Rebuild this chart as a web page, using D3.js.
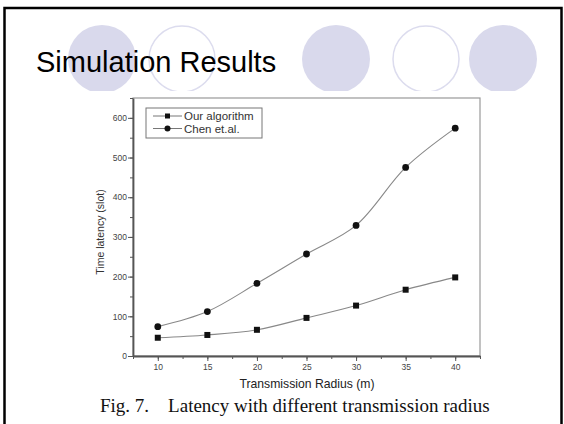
<!DOCTYPE html>
<html>
<head>
<meta charset="utf-8">
<script src="https://cdn.jsdelivr.net/npm/d3@7"></script>
<style>
  body { margin: 0; background: #fff; }
  svg { display: block; }
  .axis text { font-family: "Liberation Sans", Arial, sans-serif; font-size: 8.5px; fill: #444; }
  .axis path, .axis line { stroke: #555; }
</style>
</head>
<body>
<div id="slide"></div>
<script>
const radius = [10, 15, 20, 25, 30, 35, 40]
const ourAlgorithm = [46, 53, 66, 96, 127, 167, 198]
const chenEtAl = [74, 112, 183, 257, 329, 475, 574]
const seriesNames = ['Our algorithm', 'Chen et.al.']
const xTicks = [10, 15, 20, 25, 30, 35, 40]
const yTicks = [0, 100, 200, 300, 400, 500, 600]

const W = 564
const H = 424

const svg = d3.select('#slide')
  .append('svg')
  .attr('width', W)
  .attr('height', H)

// slide decoration circles (filled / outline alternating)
const deco = [
  { cx: 102, filled: true },
  { cx: 182, filled: false },
  { cx: 336, filled: true },
  { cx: 426, filled: false },
  { cx: 503, filled: true }
]

svg.append('clipPath').attr('id', 'decoclip')
  .append('rect').attr('x', 0).attr('y', 0).attr('width', W).attr('height', 91)

svg.append('g')
  .attr('clip-path', 'url(#decoclip)')
  .selectAll('circle')
  .data(deco)
  .enter()
  .append('circle')
  .attr('cx', d => d.cx)
  .attr('cy', 59)
  .attr('r', d => d.filled ? 34 : 33)
  .attr('fill', d => d.filled ? '#d9d9ec' : 'none')
  .attr('stroke', d => d.filled ? 'none' : '#dcdcee')
  .attr('stroke-width', 1.5)

// slide border
svg.append('rect')
  .attr('x', 4.5)
  .attr('y', 8)
  .attr('width', 557)
  .attr('height', 430)
  .attr('fill', 'none')
  .attr('stroke', '#000')
  .attr('stroke-width', 2.5)

svg.append('text')
  .text('Simulation Results')
  .attr('x', 36)
  .attr('y', 72)
  .attr('font-family', '"Liberation Sans", Arial, sans-serif')
  .attr('font-size', 29)
  .attr('fill', '#000')

// chart
const margin = { top: 98, left: 133 }
const width = 347
const height = 258

const g = svg.append('g')
  .attr('transform', `translate(${margin.left},${margin.top})`)

const x = d3.scaleLinear().domain([7.5, 42.5]).range([0, width])
const y = d3.scaleLinear().domain([0, 650]).range([height, 0])

// frame (top / right lighter)
g.append('rect')
  .attr('width', width)
  .attr('height', height)
  .attr('fill', 'none')
  .attr('stroke', '#999')
  .attr('stroke-width', 1.2)

// minor ticks
g.append('g')
  .attr('class', 'axis')
  .attr('transform', `translate(0,${height})`)
  .call(d3.axisBottom(x).tickValues(d3.range(7.5, 42.6, 2.5)).tickSize(3).tickFormat(''))
  .call(a => a.select('.domain').remove())

g.append('g')
  .attr('class', 'axis')
  .call(d3.axisLeft(y).tickValues(d3.range(0, 651, 50)).tickSize(3).tickFormat(''))
  .call(a => a.select('.domain').remove())

const xAxis = g.append('g')
  .attr('class', 'axis')
  .attr('transform', `translate(0,${height})`)
  .call(d3.axisBottom(x).tickValues(xTicks).tickSize(5).tickPadding(3).tickSizeOuter(0))
xAxis.select('.domain').attr('stroke-width', 1.8)

const yAxis = g.append('g')
  .attr('class', 'axis')
  .call(d3.axisLeft(y).tickValues(yTicks).tickSize(5).tickPadding(1).tickSizeOuter(0))
yAxis.select('.domain').attr('stroke-width', 1.8)

// lines
const data = [
  radius.map((r, i) => ({ x: r, y: ourAlgorithm[i] })),
  radius.map((r, i) => ({ x: r, y: chenEtAl[i] }))
]

const line = d3.line()
  .x(d => x(d.x))
  .y(d => y(d.y))
  .curve(d3.curveCatmullRom)

g.selectAll('.series-line')
  .data(data)
  .enter()
  .append('path')
  .attr('class', 'series-line')
  .attr('d', line)
  .attr('fill', 'none')
  .attr('stroke', '#888')
  .attr('stroke-width', 1.1)

g.selectAll('.sq')
  .data(data[0])
  .enter()
  .append('rect')
  .attr('class', 'sq')
  .attr('x', d => x(d.x) - 3)
  .attr('y', d => y(d.y) - 3)
  .attr('width', 6)
  .attr('height', 6)
  .attr('fill', '#111')

g.selectAll('.dot')
  .data(data[1])
  .enter()
  .append('circle')
  .attr('class', 'dot')
  .attr('cx', d => x(d.x))
  .attr('cy', d => y(d.y))
  .attr('r', 3.4)
  .attr('fill', '#111')

// legend
const legend = svg.append('g').attr('transform', 'translate(146,108)')
legend.append('rect')
  .attr('width', 116)
  .attr('height', 30)
  .attr('fill', '#fff')
  .attr('stroke', '#777')
  .attr('stroke-width', 1)

seriesNames.forEach((name, i) => {
  const row = legend.append('g').attr('transform', `translate(0,${8 + i * 12.5})`)
  row.append('line')
    .attr('x1', 7).attr('x2', 36)
    .attr('stroke', '#777').attr('stroke-width', 1)
  if (i === 0) {
    row.append('rect').attr('x', 19).attr('y', -2.5).attr('width', 5).attr('height', 5).attr('fill', '#111')
  } else {
    row.append('circle').attr('cx', 21.5).attr('r', 3).attr('fill', '#111')
  }
  row.append('text')
    .text(name)
    .attr('x', 38)
    .attr('y', 4)
    .attr('font-family', '"Liberation Sans", Arial, sans-serif')
    .attr('font-size', 11.5)
    .attr('fill', '#333')
})

// axis titles
svg.append('text')
  .text('Transmission Radius (m)')
  .attr('x', 307)
  .attr('y', 388)
  .attr('text-anchor', 'middle')
  .attr('font-family', '"Liberation Sans", Arial, sans-serif')
  .attr('font-size', 12.2)
  .attr('fill', '#222')

svg.append('text')
  .text('Time latency (slot)')
  .attr('transform', 'translate(104,232) rotate(-90)')
  .attr('text-anchor', 'middle')
  .attr('font-family', '"Liberation Sans", Arial, sans-serif')
  .attr('font-size', 10.5)
  .attr('fill', '#333')

// caption
svg.append('text')
  .text('Fig. 7.\u00a0\u00a0\u00a0 Latency with different transmission radius')
  .attr('x', 100)
  .attr('y', 412)
  .attr('font-family', '"Liberation Serif", "Times New Roman", serif')
  .attr('font-size', 19)
  .attr('fill', '#111')
</script>
</body>
</html>
